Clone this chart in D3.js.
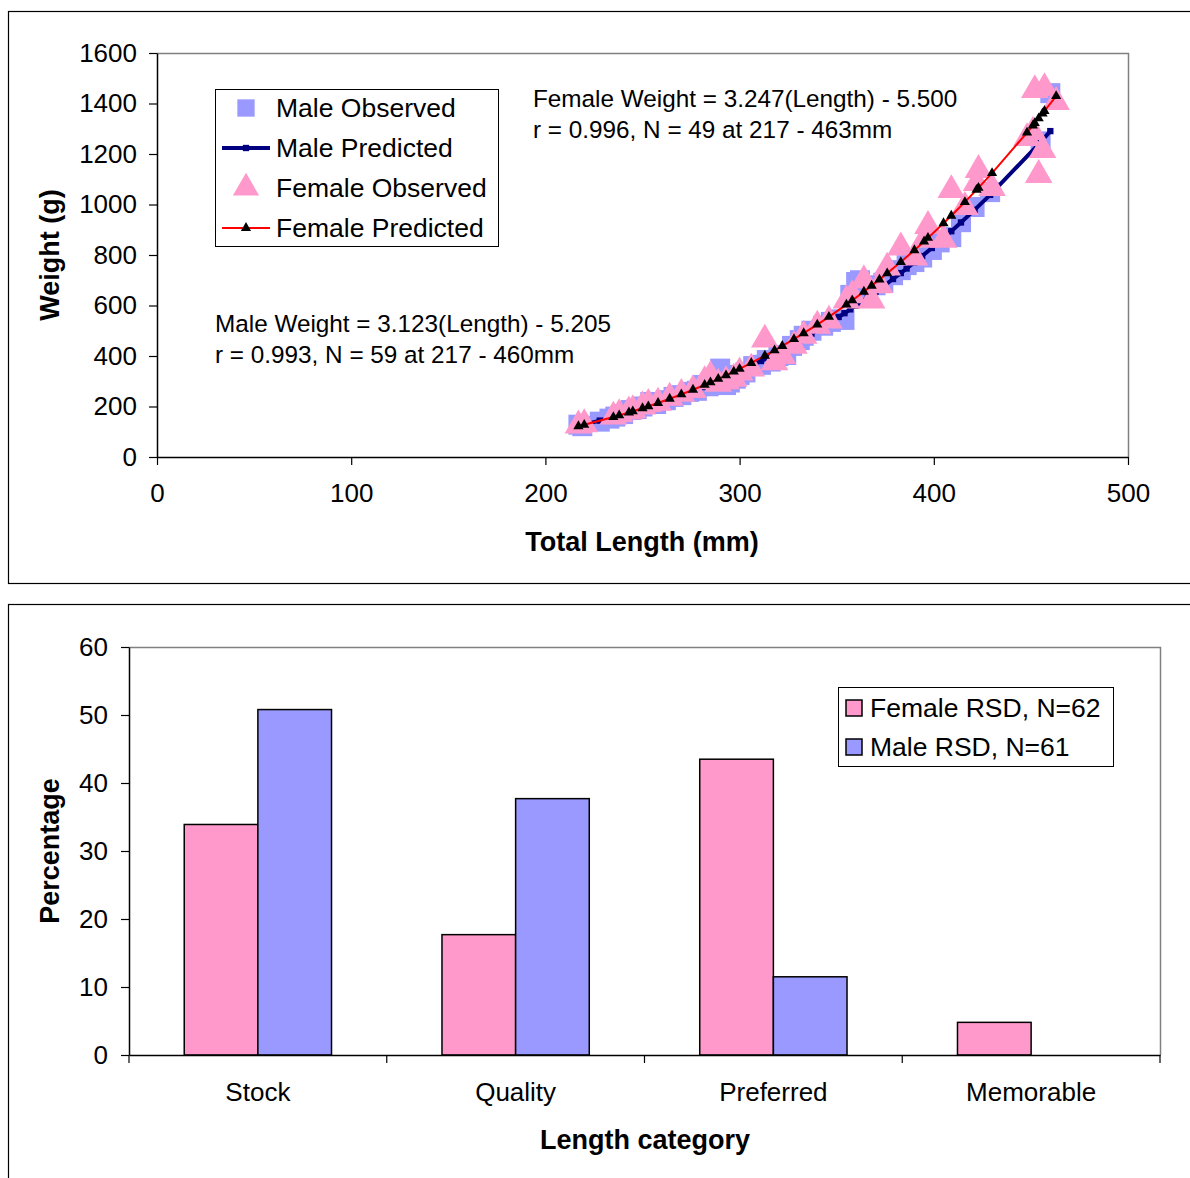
<!DOCTYPE html>
<html>
<head>
<meta charset="utf-8">
<script src="https://cdn.jsdelivr.net/npm/d3@7"></script>
<style>
  body { margin: 0; background: #fff; }
  svg text { font-family: "Liberation Sans", Arial, sans-serif; fill: #000; }
</style>
</head>
<body>
<script>
// ---- data: length-weight relationship ----
const maleLength = [217, 219, 228, 233, 236, 240, 244, 247, 250, 254, 257, 262, 266, 270, 274, 278, 281, 284, 286, 289,
  290, 293, 295, 298, 300, 303, 307, 311, 314, 316, 320, 324, 327, 331, 333, 337, 343, 347, 351, 354,
  357, 360, 362, 366, 370, 374, 379, 383, 386, 390, 394, 399, 403, 409, 414, 421, 429, 455, 460];
const maleObserved = [128, 122, 140, 152, 160, 170, 186, 190, 200, 218, 210, 225, 238, 245, 258, 262, 285, 280, 290, 300,
  350, 285, 295, 310, 325, 335, 360, 365, 384, 378, 400, 404, 440, 463, 480, 500, 520, 535, 545, 543,
  642, 693, 700, 640, 680, 690, 720, 740, 760, 772, 790, 820, 850, 871, 930, 990, 1049, 1250, 1441];
const malePredicted = [123.5, 127.1, 144.1, 154.3, 160.6, 169.2, 178.2, 185.1, 192.2, 202.0, 209.5, 222.5, 233.3, 244.4, 255.9, 267.7, 276.9, 286.2, 292.6, 302.3,
  305.6, 315.5, 322.3, 332.7, 339.7, 350.4, 365.1, 380.1, 391.6, 399.5, 415.5, 432.0, 444.6, 461.8, 470.5, 488.4, 515.9, 535.0, 554.6, 569.5,
  584.7, 600.2, 610.7, 632.0, 653.9, 676.2, 704.9, 728.4, 746.4, 770.8, 795.8, 827.7, 853.9, 894.2, 928.9, 978.7, 1038.0, 1247.4, 1290.7];

const femaleLength = [217, 220, 235, 238, 243, 245, 250, 253, 258, 264, 270, 276, 282, 285, 289, 293, 297, 300, 306, 313,
  318, 322, 328, 333, 340, 346, 355, 358, 364, 368, 372, 376, 383, 390, 395, 397, 405, 409, 416, 422,
  423, 430, 448, 451, 452, 454, 456, 457, 463];
const femaleObserved = [125, 130, 160, 170, 180, 185, 200, 210, 215, 235, 250, 265, 300, 320, 290, 300, 310, 335, 350, 465,
  375, 400, 440, 480, 520, 540, 620, 640, 700, 620, 680, 750, 830, 790, 860, 915, 860, 1057, 990, 1085,
  1137, 1065, 1263, 1287, 1453, 1117, 1216, 1461, 1406];
const femalePredicted = [122.0, 127.6, 158.1, 164.8, 176.3, 181.0, 193.2, 200.9, 214.1, 230.7, 248.1, 266.5, 285.7, 295.7, 309.4, 323.6, 338.1, 349.3, 372.5, 401.0,
  422.2, 439.7, 466.8, 490.3, 524.5, 555.1, 603.6, 620.3, 654.6, 678.3, 702.5, 727.4, 772.2, 818.9, 853.5, 867.6, 925.8, 955.7, 1009.7, 1057.8,
  1066.0, 1124.4, 1284.6, 1312.7, 1322.2, 1341.3, 1360.5, 1370.3, 1429.6];

const xTicksTop = [0, 100, 200, 300, 400, 500];
const yTicksTop = [0, 200, 400, 600, 800, 1000, 1200, 1400, 1600];

// ---- data: relative stock density ----
const categories = ["Stock", "Quality", "Preferred", "Memorable"];
const femaleRSD = [33.9, 17.7, 43.5, 4.8];
const maleRSD = [50.8, 37.7, 11.5, 0];
const yTicksBottom = [0, 10, 20, 30, 40, 50, 60];

const W = 1190, H = 1178;
const tickFont = "26px", legFont = "26.5px", eqFont = "24.3px", titleFont = "27px";
const svg = d3.select("body").append("svg").attr("width", W).attr("height", H);

// chart frames
svg.append("rect").attr("x", 8.5).attr("y", 11.5).attr("width", 1200).attr("height", 572)
  .attr("fill", "none").attr("stroke", "#000").attr("stroke-width", 1.2);
svg.append("rect").attr("x", 8.5).attr("y", 604.5).attr("width", 1200).attr("height", 600)
  .attr("fill", "none").attr("stroke", "#000").attr("stroke-width", 1.2);

// ================= top chart =================
const x1 = d3.scaleLinear().domain([0, 500]).range([157, 1128]);
const y1 = d3.scaleLinear().domain([0, 1600]).range([457, 53]);

// plot area border (grey top/right)
svg.append("path").attr("d", `M157,53.5H1128.5V457`).attr("fill", "none").attr("stroke", "#808080").attr("stroke-width", 1.5);

const xAxis1 = svg.append("g").attr("transform", "translate(0,457)")
  .call(d3.axisBottom(x1).tickValues(xTicksTop).tickFormat(d3.format("d")).tickSize(8).tickPadding(19).tickSizeOuter(0));
const yAxis1 = svg.append("g").attr("transform", "translate(157,0)")
  .call(d3.axisLeft(y1).tickValues(yTicksTop).tickFormat(d3.format("d")).tickSize(8).tickPadding(12).tickSizeOuter(0));
[xAxis1, yAxis1].forEach(a => {
  a.selectAll("text").style("font-size", tickFont).attr("font-family", null);
  a.select(".domain").attr("stroke-width", 1.5);
  a.selectAll(".tick line").attr("stroke-width", 1.2);
});

svg.append("text").attr("x", 642).attr("y", 551).attr("text-anchor", "middle")
  .style("font-size", titleFont).style("font-weight", "bold").text("Total Length (mm)");
svg.append("text").attr("transform", "translate(59,255) rotate(-90)").attr("text-anchor", "middle")
  .style("font-size", titleFont).style("font-weight", "bold").text("Weight (g)");

const sq = d3.symbol().type(d3.symbolSquare);
const tri = d3.symbol().type(d3.symbolTriangle);

// Male observed
svg.append("g").selectAll("path").data(maleLength).join("path")
  .attr("transform", (d, i) => `translate(${x1(d)},${y1(maleObserved[i])})`)
  .attr("d", sq.size(400)()).attr("fill", "#9999FF");

// Male predicted
const malePts = maleLength.map((d, i) => [d, malePredicted[i]]);
svg.append("path").datum(malePts)
  .attr("d", d3.line().x(d => x1(d[0])).y(d => y1(d[1])))
  .attr("fill", "none").attr("stroke", "#000080").attr("stroke-width", 4);
svg.append("g").selectAll("path").data(malePts).join("path")
  .attr("transform", d => `translate(${x1(d[0])},${y1(d[1])})`)
  .attr("d", sq.size(40)()).attr("fill", "#000080");

// Female observed
svg.append("g").selectAll("path").data(femaleLength).join("path")
  .attr("transform", (d, i) => `translate(${x1(d)},${y1(femaleObserved[i])})`)
  .attr("d", tri.size(330)()).attr("fill", "#FF99CC");

// Female predicted
const femalePts = femaleLength.map((d, i) => [d, femalePredicted[i]]);
svg.append("path").datum(femalePts)
  .attr("d", d3.line().x(d => x1(d[0])).y(d => y1(d[1])))
  .attr("fill", "none").attr("stroke", "#FF0000").attr("stroke-width", 2);
svg.append("g").selectAll("path").data(femalePts).join("path")
  .attr("transform", d => `translate(${x1(d[0])},${y1(d[1])})`)
  .attr("d", tri.size(45)()).attr("fill", "#000");

// equations
const eq = [
  { x: 533, y: 107, t: "Female Weight = 3.247(Length) - 5.500" },
  { x: 533, y: 138, t: "r = 0.996, N = 49 at 217 - 463mm" },
  { x: 215, y: 332, t: "Male Weight = 3.123(Length) - 5.205" },
  { x: 215, y: 363, t: "r = 0.993, N = 59 at 217 - 460mm" }
];
svg.append("g").selectAll("text").data(eq).join("text")
  .attr("x", d => d.x).attr("y", d => d.y).style("font-size", eqFont).text(d => d.t);

// legend (top)
const lg = svg.append("g");
lg.append("rect").attr("x", 215.5).attr("y", 89.5).attr("width", 283).attr("height", 157)
  .attr("fill", "#fff").attr("stroke", "#000").attr("stroke-width", 1);
const legItems = ["Male Observed", "Male Predicted", "Female Observed", "Female Predicted"];
legItems.forEach((name, i) => {
  const cy = 108 + i * 40;
  if (i === 0) lg.append("path").attr("transform", `translate(246,${cy})`).attr("d", sq.size(300)()).attr("fill", "#9999FF");
  if (i === 1) {
    lg.append("line").attr("x1", 222).attr("x2", 270).attr("y1", cy).attr("y2", cy).attr("stroke", "#000080").attr("stroke-width", 4);
    lg.append("path").attr("transform", `translate(246,${cy})`).attr("d", sq.size(40)()).attr("fill", "#000080");
  }
  if (i === 2) lg.append("path").attr("transform", `translate(246,${cy})`).attr("d", tri.size(300)()).attr("fill", "#FF99CC");
  if (i === 3) {
    lg.append("line").attr("x1", 222).attr("x2", 270).attr("y1", cy).attr("y2", cy).attr("stroke", "#FF0000").attr("stroke-width", 2);
    lg.append("path").attr("transform", `translate(246,${cy})`).attr("d", tri.size(45)()).attr("fill", "#000");
  }
  lg.append("text").attr("x", 276).attr("y", cy + 9).style("font-size", legFont).text(name);
});

// ================= bottom chart =================
const x2 = d3.scaleBand().domain(categories).range([129, 1160]);
const inner = d3.scaleBand().domain(["F", "M"]).range([0, x2.bandwidth()]).paddingOuter(0.75).paddingInner(0);
const y2 = d3.scaleLinear().domain([0, 60]).range([1055, 647]);

svg.append("path").attr("d", `M129,647.5H1160.5V1055`).attr("fill", "none").attr("stroke", "#808080").attr("stroke-width", 1.5);

const groups = svg.append("g").selectAll("g").data(categories).join("g")
  .attr("transform", d => `translate(${x2(d)},0)`);
groups.append("rect").attr("x", inner("F")).attr("width", inner.bandwidth())
  .attr("y", (d, i) => y2(femaleRSD[i])).attr("height", (d, i) => y2(0) - y2(femaleRSD[i]))
  .attr("fill", "#FF99CC").attr("stroke", "#000").attr("stroke-width", 1.5);
groups.filter((d, i) => maleRSD[i] > 0).append("rect").attr("x", inner("M")).attr("width", inner.bandwidth())
  .attr("y", d => y2(maleRSD[categories.indexOf(d)])).attr("height", d => y2(0) - y2(maleRSD[categories.indexOf(d)]))
  .attr("fill", "#9999FF").attr("stroke", "#000").attr("stroke-width", 1.5);

const yAxis2 = svg.append("g").attr("transform", "translate(129,0)")
  .call(d3.axisLeft(y2).tickValues(yTicksBottom).tickSize(8).tickPadding(13).tickSizeOuter(0));
const xAxis2 = svg.append("g").attr("transform", "translate(0,1055)")
  .call(d3.axisBottom(x2).tickSize(0).tickPadding(28).tickSizeOuter(0));
// category boundary ticks
svg.append("g").selectAll("line").data([0, 1, 2, 3, 4]).join("line")
  .attr("x1", i => 129 + i * x2.step()).attr("x2", i => 129 + i * x2.step())
  .attr("y1", 1055).attr("y2", 1063).attr("stroke", "#000").attr("stroke-width", 1.2);
[xAxis2, yAxis2].forEach(a => {
  a.selectAll("text").style("font-size", tickFont).attr("font-family", null);
  a.select(".domain").attr("stroke-width", 1.5);
  a.selectAll(".tick line").attr("stroke-width", 1.2);
});

svg.append("text").attr("x", 645).attr("y", 1149).attr("text-anchor", "middle")
  .style("font-size", titleFont).style("font-weight", "bold").text("Length category");
svg.append("text").attr("transform", "translate(59,851) rotate(-90)").attr("text-anchor", "middle")
  .style("font-size", titleFont).style("font-weight", "bold").text("Percentage");

// legend (bottom)
const lg2 = svg.append("g");
lg2.append("rect").attr("x", 838.5).attr("y", 687.5).attr("width", 275).attr("height", 79)
  .attr("fill", "#fff").attr("stroke", "#000").attr("stroke-width", 1);
[["Female RSD, N=62", "#FF99CC"], ["Male RSD, N=61", "#9999FF"]].forEach((d, i) => {
  const cy = 708 + i * 39;
  lg2.append("rect").attr("x", 846).attr("y", cy - 8).attr("width", 16).attr("height", 16)
    .attr("fill", d[1]).attr("stroke", "#000").attr("stroke-width", 1.5);
  lg2.append("text").attr("x", 870).attr("y", cy + 9).style("font-size", legFont).text(d[0]);
});
</script>
</body>
</html>
